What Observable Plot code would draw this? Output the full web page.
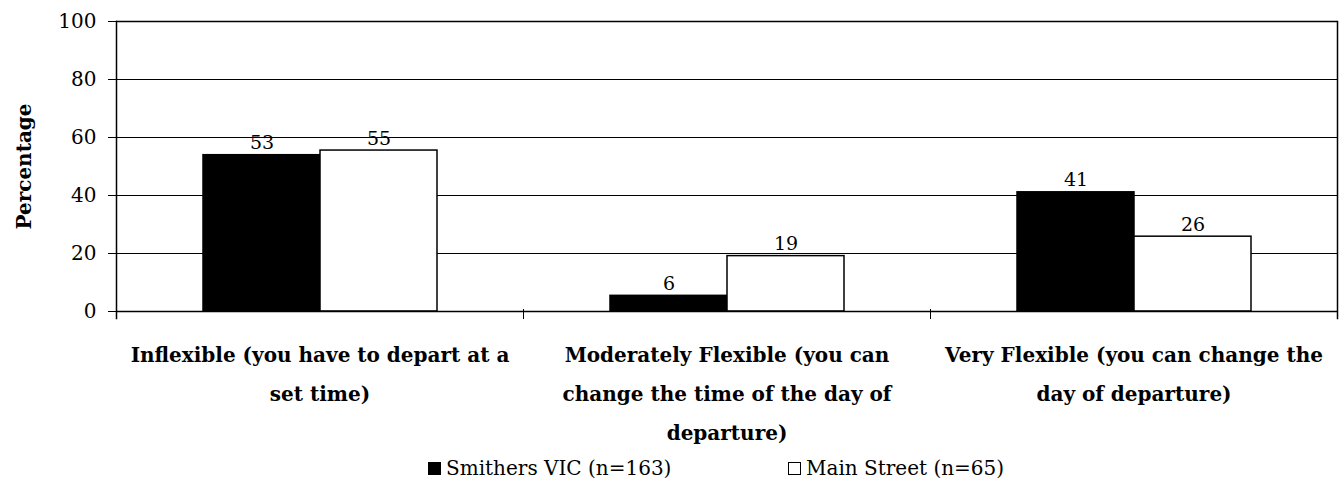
<!DOCTYPE html>
<html><head><meta charset="utf-8">
<script src="https://cdn.jsdelivr.net/npm/d3@7"></script>
<script src="https://cdn.jsdelivr.net/npm/@observablehq/plot@0.6"></script>
<style>
body{margin:0;background:#fff;font-family:"DejaVu Serif",serif;color:#000;}
#chart svg{display:block;}
#legend{position:relative;height:47px;font-size:20px;}
.item{position:absolute;top:6px;display:flex;align-items:center;white-space:nowrap;}
.sw{display:inline-block;width:13px;height:13px;border:1px solid #000;margin-right:5px;box-sizing:border-box;}
</style></head><body>
<div id="chart"></div>
<div id="legend"></div>
<script>
const categories = [
  "Inflexible (you have to depart at a set time)",
  "Moderately Flexible (you can change the time of the day of departure)",
  "Very Flexible (you can change the day of departure)"
];
const categoryLines = [
  "Inflexible (you have to depart at a\nset time)",
  "Moderately Flexible (you can\nchange the time of the day of\ndeparture)",
  "Very Flexible (you can change the\nday of departure)"
];
const series = ["Smithers VIC (n=163)", "Main Street (n=65)"];
const smithersValues = [53.9, 5.4, 41.1];
const mainStreetValues = [55.5, 19.1, 25.8];
const smithersLabels = ["53", "6", "41"];
const mainStreetLabels = ["55", "19", "26"];
const seriesColors = ["#000000", "#ffffff"];
const yTicks = [0, 20, 40, 60, 80, 100];

const rows = [];
categories.forEach((c, i) => {
  rows.push({category: c, series: series[0], value: smithersValues[i], label: smithersLabels[i]});
  rows.push({category: c, series: series[1], value: mainStreetValues[i], label: mainStreetLabels[i]});
});

const FONT = "DejaVu Serif";
const plot = Plot.plot({
  width: 1339, height: 450,
  marginLeft: 116, marginRight: 2, marginTop: 21, marginBottom: 139,
  style: {fontFamily: FONT, fontSize: "20px", color: "#000", background: "#fff"},
  fx: {domain: categories, padding: 0, label: null},
  x: {domain: series, paddingInner: 0, paddingOuter: 0.732, axis: null},
  y: {domain: [0, 100], label: null},
  color: {domain: series, range: seriesColors},
  marks: [
    Plot.ruleY(yTicks.filter(d => d > 0 && d < 100), {stroke: "#000", strokeWidth: 1}),
    Plot.barY(rows, {fx: "category", x: "series", y: "value", fill: "series", stroke: "#000", strokeWidth: 1.5}),
    Plot.text(rows, {fx: "category", x: "series", y: "value", text: "label", dy: -12, fontSize: 19, fill: "#000"}),
    Plot.ruleY([0], {stroke: "#000", strokeWidth: 1.5}),
    Plot.ruleY([100], {stroke: "#000", strokeWidth: 1.5}),
    Plot.frame({anchor: "left", facetAnchor: "left", insetBottom: -7, stroke: "#000", strokeWidth: 1.5}),
    Plot.frame({anchor: "right", facetAnchor: "right", insetBottom: -7, stroke: "#000", strokeWidth: 1.5}),
    Plot.frame({anchor: "left", insetTop: 288, insetBottom: -7, stroke: "#000", strokeWidth: 1}),
    Plot.axisY({ticks: yTicks, tickSize: 8, tickPadding: 12, fontSize: 20, label: null}),
    Plot.axisFx({anchor: "bottom", tickSize: 0, tickPadding: 23, label: null, fontSize: 20, fontWeight: "bold",
      lineHeight: 1.95, tickFormat: d => categoryLines[categories.indexOf(d)]}),
    Plot.text(["Percentage"], {frameAnchor: "left", facetAnchor: "left", textAnchor: "middle", rotate: -90, dx: -92, fontWeight: "bold", fontSize: 20, fill: "#000"})
  ]
});
document.getElementById("chart").appendChild(plot);

const legend = document.getElementById("legend");
const lefts = [428, 788];
series.forEach((s, i) => {
  const it = document.createElement("div");
  it.className = "item";
  it.style.left = lefts[i] + "px";
  const sw = document.createElement("span");
  sw.className = "sw";
  sw.style.background = seriesColors[i];
  const t = document.createElement("span");
  t.textContent = s;
  it.appendChild(sw); it.appendChild(t);
  legend.appendChild(it);
});
</script>
</body></html>
